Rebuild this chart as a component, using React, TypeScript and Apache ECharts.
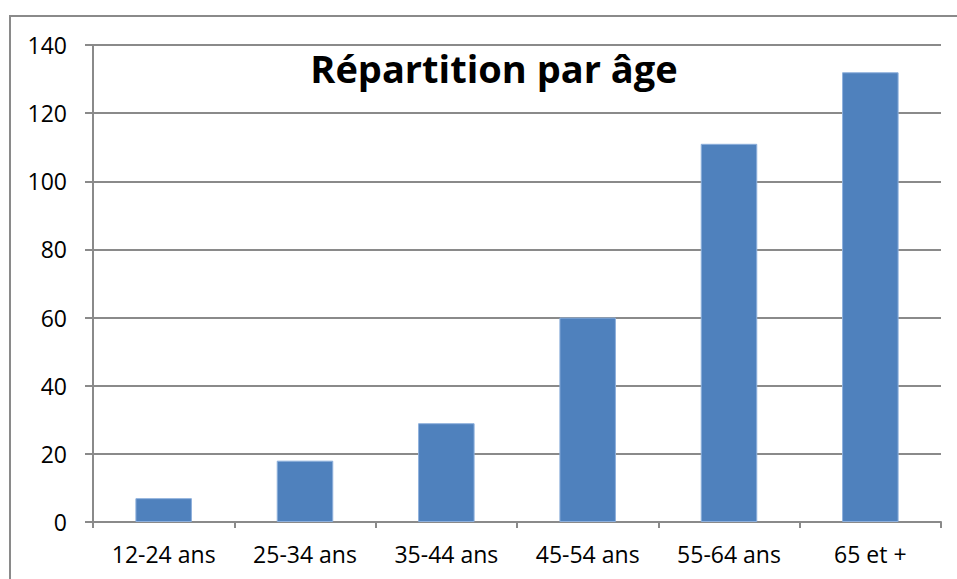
import React, { useEffect, useRef } from "react";
import * as echarts from "echarts";

const categories = ["12-24 ans", "25-34 ans", "35-44 ans", "45-54 ans", "55-64 ans", "65 et +"];
const values = [7, 18, 29, 60, 111, 132];
const titleText = "Répartition par âge";

export default function App() {
  const ref = useRef<HTMLDivElement>(null);
  useEffect(() => {
    const chart = echarts.init(ref.current!, null, { renderer: "svg" });
    const font = "'Open Sans', sans-serif";
    chart.setOption({
      animation: false,
      backgroundColor: "#ffffff",
      title: {
        text: titleText,
        left: 489,
        top: 44,
        textAlign: "center",
        textStyle: { fontFamily: font, fontWeight: "bold", fontSize: 38, color: "#000" },
      },
      graphic: [
        {
          type: "rect",
          shape: { x: 10, y: 16, width: 960, height: 600 },
          style: { fill: "none", stroke: "#8a8a8a", lineWidth: 2 },
          silent: true,
        },
      ],
      grid: { left: 93, right: 16, top: 45, bottom: 57 },
      xAxis: {
        type: "category",
        data: categories,
        axisLine: { lineStyle: { color: "#8a8a8a", width: 2 } },
        axisTick: { show: true, length: 6, lineStyle: { color: "#8a8a8a", width: 2 } },
        axisLabel: { fontFamily: font, fontSize: 23, color: "#000", margin: 20 },
      },
      yAxis: {
        type: "value",
        min: 0,
        max: 140,
        interval: 20,
        axisLine: { show: true, lineStyle: { color: "#8a8a8a", width: 2 } },
        axisTick: { show: true, length: 8, lineStyle: { color: "#8a8a8a", width: 2 } },
        axisLabel: { fontFamily: font, fontSize: 23, color: "#000", margin: 26 },
        splitLine: { lineStyle: { color: "#8a8a8a", width: 2 } },
      },
      series: [
        {
          type: "bar",
          data: values,
          barWidth: "40%",
          itemStyle: { color: "#4F81BD", borderColor: "#8eb0dc", borderWidth: 1 },
        },
      ],
    });
    return () => chart.dispose();
  }, []);
  return <div ref={ref} style={{ position: "fixed", left: 0, top: 0, width: 957, height: 579 }} />;
}
